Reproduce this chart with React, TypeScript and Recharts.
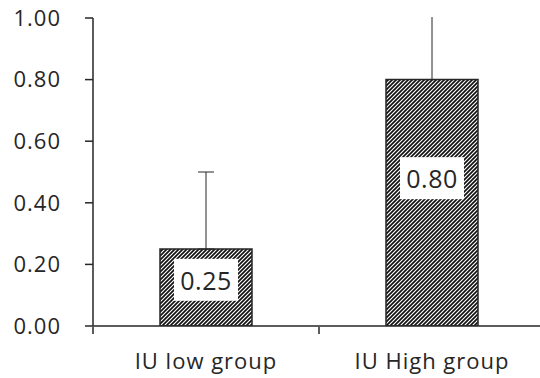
import { BarChart, Bar, XAxis, YAxis, ErrorBar, LabelList } from "recharts";

const groups = ["IU low group", "IU High group"];
const means = [0.25, 0.8];
const upperErrors = [0.25, 0.3];
const yTicks = [0, 0.2, 0.4, 0.6, 0.8, 1.0];
const edgeTicks = [0, 1, 2];

const data = groups.map((g, i) => ({
  group: g,
  mean: means[i],
  err: [0, upperErrors[i]],
  edge: i + 0.5,
}));

const ink = "#262626";

function ValueBox(props: any) {
  const { x, y, width, height, value } = props;
  const cx = Number(x) + Number(width) / 2;
  const cy = Number(y) + Number(height) * 0.4;
  return (
    <g>
      <rect x={cx - 32} y={cy - 21} width={64} height={42} fill="#ffffff" />
      <text
        x={cx}
        y={cy}
        textAnchor="middle"
        dominantBaseline="central"
        fontSize={25}
        letterSpacing={0.5}
        fill={ink}
      >
        {Number(value).toFixed(2)}
      </text>
    </g>
  );
}

export default function App() {
  return (
    <div
      style={{
        position: "absolute",
        left: 0,
        top: 0,
        width: 540,
        height: 378,
        overflow: "hidden",
        background: "#ffffff",
        fontFamily: "'Open Sans', sans-serif",
        letterSpacing: "1px",
      }}
    >
      <svg width={0} height={0} style={{ position: "absolute" }}>
        <defs>
          <pattern id="hatch" patternUnits="userSpaceOnUse" width={4} height={4}>
            <rect width={4} height={4} fill="#ffffff" />
            <path
              d="M-1,1 l2,-2 M0,4 l4,-4 M3,5 l2,-2"
              stroke="#111111"
              strokeWidth={1.7}
            />
          </pattern>
          {/* keep the error whiskers inside the plot area */}
          <clipPath id="plotClip" clipPathUnits="userSpaceOnUse">
            <rect x={0} y={17} width={600} height={400} />
          </clipPath>
        </defs>
      </svg>
      <BarChart
        width={560}
        height={378}
        data={data}
        margin={{ top: 18, right: 15, left: 0, bottom: 0 }}
      >
        {/* category axis: line + group labels */}
        <XAxis
          xAxisId="cat"
          dataKey="group"
          height={1}
          axisLine={{ stroke: ink, strokeWidth: 1.5 }}
          tickLine={false}
          tickSize={0}
          tickMargin={27}
          tick={{ fill: ink, fontSize: 22 }}
        />
        {/* numeric helper axis: tick marks between the groups */}
        <XAxis
          xAxisId="edge"
          type="number"
          dataKey="edge"
          domain={[0, 2]}
          ticks={edgeTicks}
          tickFormatter={() => ""}
          tickSize={7}
          height={51}
          axisLine={false}
          tickLine={{ stroke: ink, strokeWidth: 1.5 }}
        />
        <YAxis
          width={93}
          domain={[0, 1]}
          allowDataOverflow
          ticks={yTicks}
          tickFormatter={(v: number) => v.toFixed(2)}
          tickSize={8}
          tickMargin={24}
          tick={{ fill: ink, fontSize: 22 }}
          axisLine={{ stroke: ink, strokeWidth: 1.5 }}
          tickLine={{ stroke: ink, strokeWidth: 1.5 }}
        />
        <Bar
          xAxisId="cat"
          dataKey="mean"
          barSize={92}
          fill="url(#hatch)"
          stroke={ink}
          strokeWidth={1.5}
          isAnimationActive={false}
        >
          <ErrorBar
            dataKey="err"
            width={8}
            stroke={ink}
            strokeWidth={1}
            direction="y"
            clipPath="url(#plotClip)"
          />
          <LabelList dataKey="mean" content={ValueBox} />
        </Bar>
      </BarChart>
    </div>
  );
}
